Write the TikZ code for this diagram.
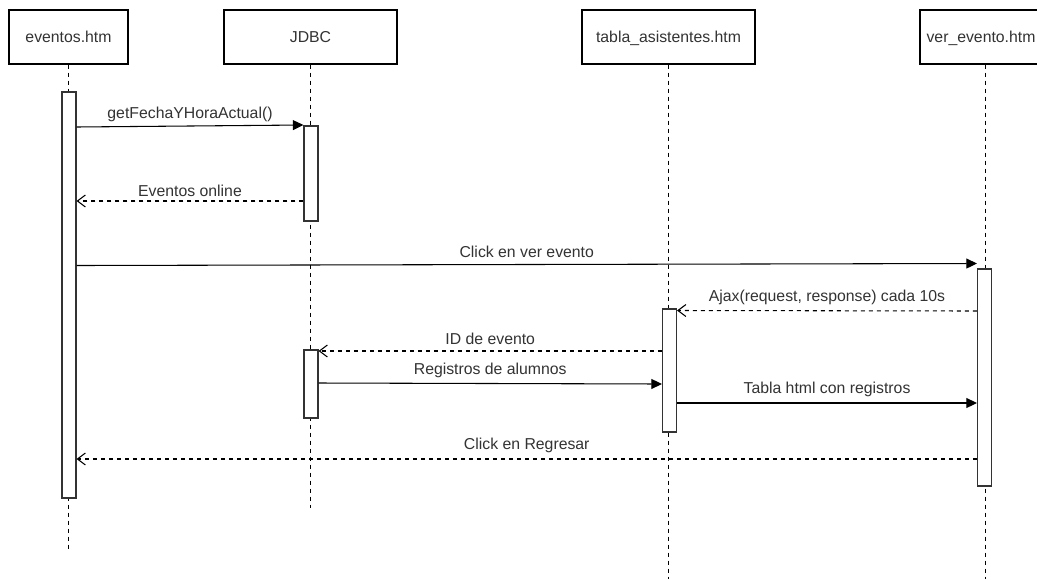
\documentclass[tikz,border=0pt]{standalone}
\usepackage{fontspec}
\setmainfont{Liberation Sans}
\usetikzlibrary{arrows.meta}
\definecolor{txt}{HTML}{333333}
\newcommand{\fs}{\fontsize{11.85pt}{14pt}\selectfont}
\begin{document}
\begin{tikzpicture}[x=0.75pt,y=-0.75pt,
  head/.style={draw=black, line width=0.9pt, fill=white, minimum height=40.5pt, inner sep=0pt,
    text=txt, font=\fs, text height=8.5pt, text depth=0pt},
  act/.style={draw=black!80, line width=0.8pt, fill=white, minimum width=10.5pt, inner sep=0pt},
  life/.style={draw=black, line width=0.7pt, dash pattern=on 3pt off 3pt},
  call/.style={draw=black, line width=0.8pt, -{Triangle[length=8pt,width=7.5pt]}},
  ret/.style={draw=black, line width=0.8pt, dash pattern=on 3pt off 3pt, -{Straight Barb[length=6pt,width=9pt]}},
  lbl/.style={midway, anchor=base, text=txt, font=\fs, inner sep=0pt}
]
\useasboundingbox (0,0) rectangle (1037,579);
\clip (0,0) rectangle (1037,579);
\fill[white] (0,0) rectangle (1037,579);

% headers
\node[head, minimum width=89.25pt]  (hE) at (68.5,37) {eventos.htm};
\node[head, minimum width=129.75pt] (hJ) at (310.5,37) {JDBC};
\node[head, minimum width=129.75pt] (hT) at (668.5,37) {tabla\_asistentes.htm};
\node[head, minimum width=97.5pt]   (hV) at (985,37) {\hspace*{-6pt}ver\_evento.htm};

% lifeline ends
\coordinate (eE) at (68.5,550);
\coordinate (eJ) at (310.5,508);
\coordinate (eT) at (668.5,579);
\coordinate (eV) at (985,579);

\draw[life] (hE.south) -- (eE);
\draw[life] (hJ.south) -- (eJ);
\draw[life] (hT.south) -- (eT);
\draw[life] (hV.south) -- (eV);

% activations
\node[act, minimum height=304.5pt] (aE)  at (69,295) {};
\node[act, minimum height=71.25pt] (aJ1) at (311,173.5) {};
\node[act, minimum height=51pt]    (aJ2) at (311,384) {};
\node[act, minimum height=92.25pt] (aT)  at (669.5,370.5) {};
\node[act, minimum height=162.75pt] (aV) at (984.5,377.5) {};

% messages
\draw[call] (aE.east |- 0,127) -- (aJ1.west |- 0,125)
  node[lbl, yshift=5.5pt] {getFechaYHoraActual()};
\draw[ret] (aJ1.west |- 0,201) -- (aE.east |- 0,201)
  node[lbl, yshift=3.5pt] {Eventos online};
\draw[call] (aE.east |- 0,265.5) -- (aV.west |- 0,263.5)
  node[lbl, yshift=5pt] {Click en ver evento};
\draw[ret] (aV.west |- 0,311) -- (aT.east |- 0,310.5)
  node[lbl, yshift=7pt] {Ajax(request, response) cada 10s};
\draw[ret] (aT.west |- 0,351) -- (aJ2.east |- 0,351)
  node[lbl, yshift=5pt] {ID de evento};
\draw[call] (aJ2.east |- 0,383) -- (aT.west |- 0,384)
  node[lbl, yshift=7pt] {Registros de alumnos};
\draw[call] (aT.east |- 0,403) -- (aV.west |- 0,403)
  node[lbl, yshift=7pt] {Tabla html con registros};
\draw[ret] (aV.west |- 0,459) -- (aE.east |- 0,459)
  node[lbl, yshift=7pt] {Click en Regresar};
\end{tikzpicture}
\end{document}
